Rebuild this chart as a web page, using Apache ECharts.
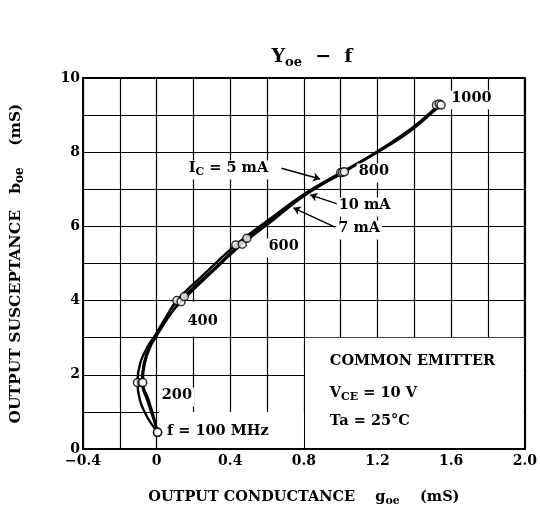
<!DOCTYPE html>
<html>
<head>
  <meta charset="UTF-8">
  <script src="https://cdn.jsdelivr.net/npm/echarts@6/dist/echarts.min.js"></script>
  <style>
    html, body { margin: 0; padding: 0; background: #fff; }
    #main { width: 540px; height: 518px; }
  </style>
</head>
<body>
  <div id="main"></div>
  <script>
    // axis ranges / ticks
    var goeMin = -0.4, goeMax = 2.0, goeStep = 0.2;
    var boeMin = 0, boeMax = 10, boeStep = 1;

    // frequency markers (MHz) for each collector current: [goe, boe]
    var freqs = [100, 200, 400, 600, 800, 1000];
    var ic5Marks  = [[0.005, 0.45], [-0.104, 1.79], [0.11, 4.0], [0.43, 5.5], [1.0, 7.45], [1.52, 9.27]];
    var ic7Marks  = [[0.005, 0.45], [-0.08, 1.79], [0.133, 3.97], [0.465, 5.52], [1.01, 7.46], [1.535, 9.3]];
    var ic10Marks = [[0.005, 0.45], [-0.075, 1.79], [0.15, 4.11], [0.49, 5.68], [1.02, 7.47], [1.545, 9.27]];

    // curve paths
    var ic5Curve  = [[0.005, 0.45], [-0.05, 0.85], [-0.09, 1.3], [-0.104, 1.79], [-0.09, 2.3], [-0.05, 2.75], [-0.01, 3.05], [0.05, 3.55], [0.11, 4.0], [0.26, 4.72], [0.43, 5.5], [0.62, 6.22], [0.81, 6.9], [1.0, 7.45], [1.2, 8.02], [1.38, 8.62], [1.52, 9.22]];
    var ic7Curve  = [[0.005, 0.45], [-0.02, 0.85], [-0.05, 1.3], [-0.08, 1.79], [-0.07, 2.3], [-0.04, 2.75], [-0.005, 3.05], [0.06, 3.55], [0.133, 3.97], [0.29, 4.72], [0.465, 5.52], [0.64, 6.2], [0.8, 6.82], [1.01, 7.46], [1.2, 8.0], [1.38, 8.58], [1.535, 9.25]];
    var ic10Curve = [[0.005, 0.45], [-0.015, 0.85], [-0.042, 1.3], [-0.075, 1.79], [-0.065, 2.3], [-0.035, 2.75], [0.0, 3.05], [0.07, 3.6], [0.15, 4.11], [0.31, 4.85], [0.49, 5.68], [0.65, 6.28], [0.82, 6.9], [1.02, 7.47], [1.21, 8.05], [1.39, 8.66], [1.545, 9.27]];

    var FONT = 'DejaVu Serif';
    function richSet(size, sub, drop, lh) {
      return {
        n: { fontFamily: FONT, fontWeight: 'bold', fontSize: size, color: '#000', verticalAlign: 'top', lineHeight: lh },
        s: { fontFamily: FONT, fontWeight: 'bold', fontSize: sub, color: '#000', verticalAlign: 'top', lineHeight: lh, padding: [drop, 0, 0, 0] }
      };
    }
    var noteRich = richSet(14.5, 11, 6, 19);

    function curveSeries(name, data) {
      return {
        name: name, type: 'line', data: data, smooth: 0.4,
        showSymbol: false, symbol: 'none',
        lineStyle: { color: '#000', width: 2.4 }, z: 3, silent: true
      };
    }
    function markSeries(name, data) {
      return {
        name: name + ' marks', type: 'scatter', data: data,
        symbol: 'circle', symbolSize: 8,
        itemStyle: { color: '#fff', borderColor: '#000', borderWidth: 1.5 },
        z: 5, silent: true
      };
    }
    function txt(coord, text, pos) {
      return {
        coord: coord, symbolSize: 0,
        label: {
          show: true, position: pos || 'inside', distance: 0,
          formatter: text, rich: noteRich, backgroundColor: '#fff', padding: [0, 2, 0, 2]
        }
      };
    }
    function arrow(from, to) {
      return [{ coord: from }, { coord: to }];
    }

    var chart = echarts.init(document.getElementById('main'));
    chart.setOption({
      animation: false,
      backgroundColor: '#fff',
      title: {
        text: '{n|Y}{s|oe}{n|  −  f}',
        left: 307, top: 43, textAlign: 'center',
        textStyle: { rich: richSet(19, 13, 8, 23) }
      },
      grid: {
        left: 83, right: 11, top: 78, bottom: 69,
        show: true, borderColor: '#000', borderWidth: 2
      },
      xAxis: {
        type: 'value', min: goeMin, max: goeMax, interval: goeStep,
        axisLine: { onZero: false, lineStyle: { color: '#000', width: 2 } },
        axisTick: { show: false },
        splitLine: { lineStyle: { color: '#000', width: 1.2 } },
        axisLabel: {
          color: '#000', fontFamily: FONT, fontWeight: 'bold', fontSize: 14, margin: 5,
          formatter: function (v) {
            var k = Math.round(v * 10);
            if (k % 4 !== 0) return '';
            if (k === 0) return '0';
            return (v < 0 ? '−' : '') + Math.abs(v).toFixed(1);
          }
        },
        name: '{n|OUTPUT CONDUCTANCE    g}{s|oe}{n|    (mS)}',
        nameLocation: 'middle', nameGap: 41,
        nameTextStyle: { rich: richSet(14.5, 11, 6, 19) }
      },
      yAxis: {
        type: 'value', min: boeMin, max: boeMax, interval: boeStep,
        axisLine: { onZero: false, lineStyle: { color: '#000', width: 2 } },
        axisTick: { show: false },
        splitLine: { lineStyle: { color: '#000', width: 1.2 } },
        axisLabel: {
          color: '#000', fontFamily: FONT, fontWeight: 'bold', fontSize: 14, margin: 3,
          formatter: function (v) { return v % 2 === 0 ? String(v) : ''; }
        },
        name: '{n|OUTPUT SUSCEPTANCE   b}{s|oe}{n|    (mS)}',
        nameLocation: 'middle', nameGap: 55, nameRotate: 90,
        nameTextStyle: { rich: richSet(15.5, 12, 6, 20) }
      },
      series: [
        {
          name: 'notes', type: 'scatter', data: [], silent: true, z: 4,
          markArea: {
            silent: true,
            itemStyle: { color: '#fff', opacity: 1 },
            data: [
              [{ coord: [0.806, 0.03] }, { coord: [1.994, 3] }],
              [{ coord: [0.012, 0.03] }, { coord: [0.8, 1] }],
              [{ coord: [0.17, 3.03] }, { coord: [0.37, 3.97] }]
            ]
          },
          markLine: {
            silent: true, symbol: ['none', 'arrow'], symbolSize: 7,
            label: { show: false },
            lineStyle: { color: '#000', width: 1.5, type: 'solid' },
            data: [
              arrow([0.678, 7.57], [0.888, 7.28]),
              arrow([0.985, 6.6], [0.834, 6.85]),
              arrow([0.969, 5.98], [0.743, 6.5])
            ]
          },
          markPoint: {
            silent: true, symbol: 'circle',
            data: [
              txt([0.39, 7.52], '{n|I}{s|C}{n| = 5 mA}'),
              txt([1.13, 6.52], '{n|10 mA}'),
              txt([1.1, 5.9], '{n|7 mA}'),
              txt([1.71, 9.41], '{n|' + freqs[5] + '}'),
              txt([1.18, 7.44], '{n|' + freqs[4] + '}'),
              txt([0.69, 5.42], '{n|' + freqs[3] + '}'),
              txt([0.25, 3.4], '{n|' + freqs[2] + '}'),
              txt([0.11, 1.4], '{n|' + freqs[1] + '}'),
              txt([0.045, 0.43], '{n|f = ' + freqs[0] + ' MHz}', 'right'),
              txt([0.93, 2.3], '{n|COMMON EMITTER}', 'right'),
              txt([0.93, 1.46], '{n|V}{s|CE}{n| = 10 V}', 'right'),
              txt([0.93, 0.7], '{n|Ta = 25°C}', 'right')
            ]
          }
        },
        curveSeries('IC = 5 mA', ic5Curve),
        curveSeries('IC = 7 mA', ic7Curve),
        curveSeries('IC = 10 mA', ic10Curve),
        markSeries('IC = 5 mA', ic5Marks),
        markSeries('IC = 7 mA', ic7Marks),
        markSeries('IC = 10 mA', ic10Marks)
      ]
    });
  </script>
</body>
</html>
